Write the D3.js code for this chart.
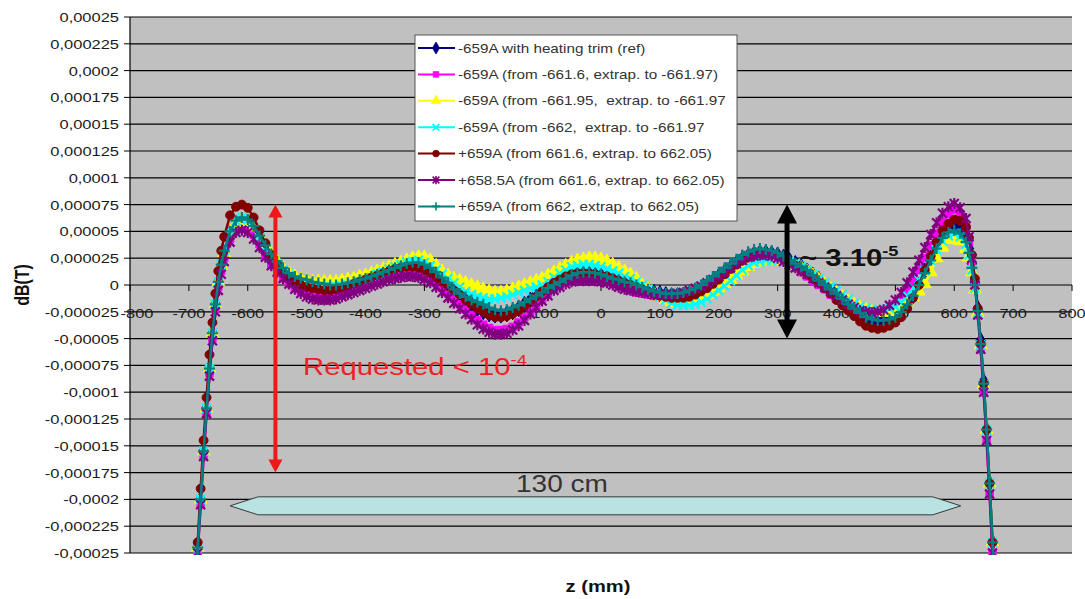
<!DOCTYPE html>
<html>
<head>
<meta charset="utf-8">
<script src="https://cdn.jsdelivr.net/npm/d3@7"></script>
<style>
body { margin: 0; background: #fff; }
svg { display: block; font-family: Arial, "Liberation Sans", sans-serif; }
text { white-space: pre; }
</style>
</head>
<body>
<svg id="chart" width="1085" height="599"></svg>
<script>
// z positions along the axis (mm), finer near the two ends where the field falls off
var zPos = [
	-690,-685,-680,-675,-670,-665,-660,-655,-650,-645,-640,
	-630,-620,-610,-600,-590,-580,-570,-560,-550,-540,
	-530,-520,-510,-500,-490,-480,-470,-460,-450,-440,
	-430,-420,-410,-400,-390,-380,-370,-360,-350,-340,
	-330,-320,-310,-300,-290,-280,-270,-260,-250,-240,
	-230,-220,-210,-200,-190,-180,-170,-160,-150,-140,
	-130,-120,-110,-100,-90,-80,-70,-60,-50,-40,
	-30,-20,-10,0,10,20,30,40,50,60,
	70,80,90,100,110,120,130,140,150,160,
	170,180,190,200,210,220,230,240,250,260,
	270,280,290,300,310,320,330,340,350,360,
	370,380,390,400,410,420,430,440,450,460,
	470,480,490,500,510,520,530,540,550,560,
	570,580,590,600,610,620,
	625,630,635,640,645,650,655,660,665,670
];

// dB in micro-tesla, one list per run
var refTrim = [
	-300,-245,-200,-155,-115,-78,-45,-18,3,18,30,
	48,57,60,58,52,43,33,24,17,11,
	6,2,-1,-3,-4,-5,-5,-4,-3,-1,
	1,3,5,7,9,11,13,15,16,17,
	18,18,17,15,12,8,4,0,-4,-9,
	-13,-18,-22,-25,-27,-28,-28,-27,-25,-22,
	-18,-14,-9,-5,-1,3,6,9,11,12,
	13,13,12,11,9,7,5,3,1,-1,
	-3,-5,-7,-8,-9,-10,-10,-10,-9,-7,
	-4,-1,3,8,12,16,20,24,27,29,
	30,30,29,28,26,23,20,17,13,9,
	5,0,-4,-9,-14,-18,-23,-27,-30,-32,
	-33,-33,-31,-28,-24,-18,-10,0,13,25,
	37,47,54,56,53,44,
	34,20,2,-22,-52,-90,-135,-185,-240,-300
];
var neg6616 = [
	-300,-250,-205,-160,-120,-82,-50,-22,-2,13,25,
	43,52,55,53,47,38,28,19,12,6,
	1,-3,-6,-8,-9,-10,-10,-10,-9,-7,
	-5,-3,-1,1,3,5,7,9,10,11,
	12,12,11,9,6,2,-3,-8,-13,-18,
	-23,-28,-33,-37,-40,-42,-42,-41,-39,-35,
	-30,-25,-19,-13,-8,-4,0,3,5,6,
	7,7,6,5,3,1,-1,-3,-5,-7,
	-8,-9,-10,-10,-10,-10,-10,-9,-7,-5,
	-2,1,5,9,13,17,21,24,26,28,
	28,28,27,25,22,19,16,12,8,4,
	0,-4,-9,-13,-17,-21,-24,-26,-27,-27,
	-26,-25,-22,-18,-12,-5,4,14,25,37,
	48,58,66,70,66,54,
	40,22,0,-28,-60,-100,-145,-195,-250,-300
];
var neg66195 = [
	-300,-245,-200,-155,-115,-78,-45,-18,3,18,30,
	48,58,61,59,54,46,37,29,22,16,
	11,8,5,4,3,3,3,3,3,4,
	5,6,8,9,11,13,15,17,19,21,
	23,25,26,26,23,18,13,9,6,4,
	2,0,-2,-4,-6,-7,-7,-6,-4,-2,
	0,2,4,6,9,12,15,18,21,23,
	24,25,25,24,22,19,16,13,10,6,
	0,-4,-8,-11,-14,-16,-17,-17,-16,-14,
	-12,-9,-6,-3,1,5,9,13,17,20,
	22,23,23,23,22,20,18,16,13,9,
	5,1,-3,-7,-11,-15,-18,-21,-23,-25,
	-26,-26,-25,-23,-20,-16,-11,-6,1,12,
	25,35,42,44,41,34,
	26,12,-4,-26,-56,-93,-135,-185,-240,-300
];
var neg662 = [
	-300,-245,-200,-155,-115,-78,-45,-18,3,19,32,
	50,60,63,61,54,45,36,27,20,14,
	9,5,2,0,-1,-2,-2,-2,-2,-1,
	0,1,3,5,7,10,12,15,17,19,
	21,22,23,21,18,14,10,6,2,-2,
	-6,-9,-11,-12,-13,-13,-12,-11,-9,-7,
	-5,-3,-2,0,3,7,11,14,17,18,
	19,19,18,17,15,13,11,8,6,3,
	0,-4,-8,-11,-14,-17,-19,-19,-19,-18,
	-16,-13,-9,-5,-1,4,9,14,18,21,
	22,23,23,23,22,22,20,17,14,10,
	6,2,-2,-5,-9,-13,-17,-20,-22,-23,
	-23,-23,-22,-20,-16,-10,-3,5,13,23,
	33,41,46,48,45,38,
	28,14,-3,-26,-56,-93,-135,-185,-240,-300
];
var pos6616 = [
	-300,-240,-190,-145,-105,-65,-35,-8,13,32,45,
	65,73,75,72,63,51,39,28,19,12,
	7,3,0,-2,-3,-4,-5,-5,-4,-3,
	-1,1,3,5,7,9,11,13,15,16,
	17,17,16,14,11,7,3,-1,-5,-9,
	-14,-18,-22,-25,-28,-30,-30,-29,-27,-24,
	-20,-16,-11,-6,-2,2,5,8,10,11,
	11,11,10,9,8,6,4,2,0,-2,
	-4,-6,-8,-10,-11,-12,-12,-12,-11,-9,
	-6,-3,1,5,10,15,19,23,26,28,
	30,30,29,27,24,21,18,14,10,6,
	2,-3,-8,-14,-19,-24,-29,-34,-38,-40,
	-41,-40,-38,-35,-30,-22,-12,0,14,27,
	40,51,57,61,60,54,
	44,28,6,-22,-55,-92,-135,-185,-240,-300
];
var pos6585 = [
	-300,-250,-205,-160,-120,-85,-52,-25,-5,10,22,
	40,49,51,49,43,35,26,18,12,6,
	1,-4,-8,-11,-13,-14,-14,-14,-13,-11,
	-9,-7,-5,-3,-1,1,3,5,6,7,
	8,8,7,5,2,-2,-7,-12,-17,-22,
	-27,-32,-37,-41,-44,-46,-46,-45,-42,-38,
	-33,-27,-21,-15,-10,-5,-2,1,3,4,
	4,4,4,3,2,0,-2,-4,-5,-6,
	-7,-8,-9,-9,-9,-9,-8,-7,-5,-3,
	-1,2,5,8,12,16,20,23,26,27,
	28,28,27,25,22,19,16,13,10,6,
	2,-2,-6,-10,-14,-18,-21,-24,-25,-26,
	-25,-23,-19,-14,-7,2,12,23,35,47,
	58,67,73,76,72,62,
	45,25,0,-28,-60,-100,-145,-195,-250,-300
];
var pos662 = [
	-300,-245,-200,-155,-115,-78,-45,-18,3,19,32,
	50,60,63,61,55,46,37,29,22,16,
	11,8,6,5,3,2,1,0,0,1,
	2,3,5,6,8,10,12,14,16,18,
	20,21,21,19,16,12,7,2,-4,-8,
	-11,-14,-16,-18,-21,-23,-24,-23,-21,-19,
	-16,-13,-10,-7,-3,0,3,6,9,11,
	12,12,11,10,8,6,5,3,2,0,
	-2,-4,-6,-7,-8,-8,-8,-7,-5,-3,
	0,4,8,12,16,20,24,28,31,33,
	34,33,32,30,27,23,20,17,14,9,
	4,0,-4,-8,-13,-18,-22,-26,-30,-32,
	-33,-33,-32,-30,-25,-18,-10,0,11,23,
	34,44,49,51,48,40,
	30,16,0,-24,-55,-92,-135,-185,-240,-300
];

var seriesNames = [
	"-659A with heating trim (ref)",
	"-659A (from -661.6, extrap. to -661.97)",
	"-659A (from -661.95,  extrap. to -661.97",
	"-659A (from -662,  extrap. to -661.97",
	"+659A (from 661.6, extrap. to 662.05)",
	"+658.5A (from 661.6, extrap. to 662.05)",
	"+659A (from 662, extrap. to 662.05)"
];
var seriesValues = [refTrim, neg6616, neg66195, neg662, pos6616, pos6585, pos662];

var xTicks = [-800,-700,-600,-500,-400,-300,-200,-100,0,100,200,300,400,500,600,700,800];
var yTicks = [0.00025,0.000225,0.0002,0.000175,0.00015,0.000125,0.0001,0.000075,0.00005,0.000025,0,
	-0.000025,-0.00005,-0.000075,-0.0001,-0.000125,-0.00015,-0.000175,-0.0002,-0.000225,-0.00025];
var yTickLabels = ["0,00025","0,000225","0,0002","0,000175","0,00015","0,000125","0,0001","0,000075","0,00005","0,000025","0",
	"-0,000025","-0,00005","-0,000075","-0,0001","-0,000125","-0,00015","-0,000175","-0,0002","-0,000225","-0,00025"];

// styles
var colors = ["#000080", "#ff00ff", "#ffff00", "#00ffff", "#800000", "#800080", "#008080"];
var markerKind = ["diamond", "square", "triangle", "times", "circle", "asterisk", "plus"];
var SX = 1.22; // the source picture is stretched sideways, text with it

var svg = d3.select("#chart");
var x = d3.scaleLinear().domain([-800, 800]).range([130, 1072]);
var y = d3.scaleLinear().domain([-0.00025, 0.00025]).range([553, 17]);

function addText(parent, px, py, str, size, anchor) {
	return parent.append("text")
		.attr("transform", "translate(" + px + "," + py + ") scale(" + SX + ",1)")
		.attr("font-size", size)
		.attr("text-anchor", anchor || "start")
		.text(str);
}

// plot area
svg.append("rect")
	.attr("x", x(-800)).attr("y", y(0.00025))
	.attr("width", x(800) - x(-800)).attr("height", y(-0.00025) - y(0.00025))
	.attr("fill", "#c0c0c0");

svg.append("defs").append("clipPath").attr("id", "plotClip")
	.append("rect")
	.attr("x", x(-800)).attr("y", y(0.00025))
	.attr("width", x(800) - x(-800)).attr("height", y(-0.00025) - y(0.00025) + 2);

// gridlines
svg.append("g").selectAll("line")
	.data(yTicks).enter().append("line")
	.attr("x1", x(-800)).attr("x2", x(800))
	.attr("y1", function(d) { return y(d); })
	.attr("y2", function(d) { return y(d); })
	.attr("stroke", "#000").attr("stroke-width", 1.2);

// y axis
svg.append("line")
	.attr("x1", x(-800)).attr("x2", x(-800))
	.attr("y1", y(0.00025)).attr("y2", y(-0.00025))
	.attr("stroke", "#000").attr("stroke-width", 1.2);
var yAx = svg.append("g").attr("fill", "#1a1a1a");
yTicks.forEach(function(v, i) {
	yAx.append("line")
		.attr("x1", x(-800) - 6).attr("x2", x(-800))
		.attr("y1", y(v)).attr("y2", y(v))
		.attr("stroke", "#000");
	addText(yAx, x(-800) - 11, y(v) + 5, yTickLabels[i], 13.5, "end");
});

// x axis along zero
var xAx = svg.append("g").attr("fill", "#1a1a1a");
xTicks.forEach(function(v, i) {
	xAx.append("line")
		.attr("x1", x(v)).attr("x2", x(v))
		.attr("y1", y(0)).attr("y2", y(0) + 6)
		.attr("stroke", "#000");
	// first label sits just right of the y labels, as in the source
	addText(xAx, x(v) + (i === 0 ? 7 : 0), y(0) + 33, String(v), 13.5, "middle");
});

// markers
function markerPath(kind, k) {
	k = k || 1;
	var a = 4.5 * k, b = 5.5 * k;
	if (kind === "times") return "M" + -a + "," + -a + "L" + a + "," + a + "M" + -a + "," + a + "L" + a + "," + -a;
	if (kind === "asterisk") return "M" + -a + "," + -a + "L" + a + "," + a + "M" + -a + "," + a + "L" + a + "," + -a + "M0," + -b + "L0," + b;
	if (kind === "plus") return "M" + -b + ",0L" + b + ",0M0," + -b + "L0," + b;
	var type = {diamond: d3.symbolDiamond, square: d3.symbolSquare, triangle: d3.symbolTriangle, circle: d3.symbolCircle}[kind];
	var size = {diamond: 75, square: 55, triangle: 70, circle: 62}[kind];
	return d3.symbol().type(type).size(size * k * k)();
}
function isStroked(kind) { return kind === "times" || kind === "asterisk" || kind === "plus"; }

var line = d3.line()
	.x(function(d) { return x(d.z); })
	.y(function(d) { return y(d.v * 1e-6); });

var plot = svg.append("g").attr("clip-path", "url(#plotClip)");
seriesValues.forEach(function(vals, s) {
	var pts = zPos.map(function(z, i) { return {z: z, v: vals[i]}; });
	var g = plot.append("g");
	g.append("path")
		.attr("d", line(pts))
		.attr("fill", "none")
		.attr("stroke", colors[s])
		.attr("stroke-width", 2.5);
	var mp = markerPath(markerKind[s]);
	g.selectAll("path.m").data(pts).enter().append("path")
		.attr("class", "m")
		.attr("d", mp)
		.attr("transform", function(d) { return "translate(" + x(d.z) + "," + y(d.v * 1e-6) + ")"; })
		.attr("fill", isStroked(markerKind[s]) ? "none" : colors[s])
		.attr("stroke", colors[s])
		.attr("stroke-width", isStroked(markerKind[s]) ? 2.2 : 1);
});

// axis titles
svg.append("text")
	.attr("transform", "translate(22," + y(0) + ") rotate(-90) scale(1," + SX + ")")
	.attr("font-size", 16).attr("font-weight", "bold")
	.attr("text-anchor", "middle").attr("dy", "0.35em")
	.attr("fill", "#111")
	.text("dB(T)");
addText(svg, 598, 592, "z (mm)", 16.5, "middle")
	.attr("font-weight", "bold").attr("fill", "#111");

// legend
var legend = svg.append("g");
legend.append("rect")
	.attr("x", 415).attr("y", 35).attr("width", 322).attr("height", 186)
	.attr("fill", "#fff").attr("stroke", "#555");
seriesNames.forEach(function(name, i) {
	var ly = 48 + i * 26.4;
	legend.append("line")
		.attr("x1", 418).attr("x2", 455).attr("y1", ly).attr("y2", ly)
		.attr("stroke", colors[i]).attr("stroke-width", 2);
	legend.append("path")
		.attr("d", markerPath(markerKind[i], 0.75))
		.attr("transform", "translate(436," + ly + ")")
		.attr("fill", isStroked(markerKind[i]) ? "none" : colors[i])
		.attr("stroke", colors[i])
		.attr("stroke-width", isStroked(markerKind[i]) ? 1.6 : 0.8);
	addText(legend, 458, ly + 4.5, name, 12.5, "start").attr("fill", "#333");
});

// annotations
var ann = svg.append("g");

// requested tolerance arrow (red)
var rx = x(-553), rTop = y(0.000075), rBot = y(-0.000175);
ann.append("line").attr("x1", rx).attr("x2", rx)
	.attr("y1", rTop + 10).attr("y2", rBot - 10)
	.attr("stroke", "#f01818").attr("stroke-width", 4);
ann.append("path")
	.attr("d", "M" + rx + "," + rTop + "l-7,13l14,0z M" + rx + "," + rBot + "l-7,-13l14,0z")
	.attr("fill", "#f01818");
var req = addText(ann, 303, 375, "Requested < 10", 24, "start").attr("fill", "#ec2224");
req.append("tspan").attr("dy", -10).attr("font-size", 15).text("-4");

// measured spread arrow (black)
var bx = x(316), bTop = y(0.000075), bBot = y(-0.00005);
ann.append("line").attr("x1", bx).attr("x2", bx)
	.attr("y1", bTop + 12).attr("y2", bBot - 12)
	.attr("stroke", "#000").attr("stroke-width", 5);
ann.append("path")
	.attr("d", "M" + bx + "," + bTop + "l-10,19l20,0z M" + bx + "," + bBot + "l-10,-19l20,0z")
	.attr("fill", "#000");
var spread = addText(ann, 800, 266, "~ 3.10", 24, "start").attr("font-weight", "bold").attr("fill", "#111");
spread.append("tspan").attr("dy", -10).attr("font-size", 15).text("-5");

// 130 cm span
var sL = x(-630), sR = x(611), sC = y(-0.000206), sH = 9;
ann.append("path")
	.attr("d", "M" + sL + "," + sC + "L" + (sL + 28) + "," + (sC - sH) + "L" + (sR - 28) + "," + (sC - sH) +
		"L" + sR + "," + sC + "L" + (sR - 28) + "," + (sC + sH) + "L" + (sL + 28) + "," + (sC + sH) + "Z")
	.attr("fill", "#b9e3e3").attr("stroke", "#3a3a3a").attr("stroke-width", 1);
addText(ann, 516, 492, "130 cm", 23, "start").attr("fill", "#333");
</script>
</body>
</html>
